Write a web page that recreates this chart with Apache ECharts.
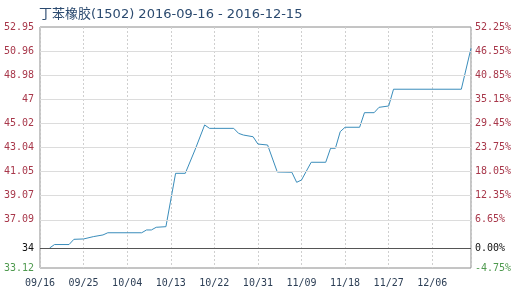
<!DOCTYPE html>
<html>
<head>
<meta charset="utf-8">
<script src="https://cdn.jsdelivr.net/npm/echarts@6/dist/echarts.min.js"></script>
<style>html,body{margin:0;padding:0;background:#fff;}#c{width:518px;height:292px;}</style>
</head>
<body>
<div id="c"></div>
<script>
var titleText = '丁苯橡胶(1502) 2016-09-16 - 2016-12-15';
var startDate = '2016-09-16';
var endDate = '2016-12-14';
var dates = ['2016-09-18','2016-09-19','2016-09-22','2016-09-23','2016-09-25','2016-09-27','2016-09-29','2016-09-30',
  '2016-10-07','2016-10-08','2016-10-09','2016-10-10','2016-10-12','2016-10-14','2016-10-16','2016-10-18','2016-10-20',
  '2016-10-21','2016-10-26','2016-10-27','2016-10-28','2016-10-30','2016-10-31','2016-11-02','2016-11-04','2016-11-07',
  '2016-11-08','2016-11-09','2016-11-11','2016-11-14','2016-11-15','2016-11-16','2016-11-17','2016-11-18','2016-11-21',
  '2016-11-22','2016-11-24','2016-11-25','2016-11-27','2016-11-28','2016-12-12','2016-12-14'];
var prices = [34.77,35.05,35.05,35.48,35.51,35.70,35.84,36.02,
  36.02,36.25,36.25,36.47,36.52,40.91,40.91,42.83,44.89,
  44.61,44.61,44.20,44.06,43.92,43.32,43.24,41.02,41.00,
  40.17,40.36,41.82,41.82,42.97,42.97,44.34,44.70,44.70,
  45.90,45.90,46.34,46.45,47.83,47.83,51.20];
var basePrice = 34.77;
var xTickLabels = ['09/16','09/25','10/04','10/13','10/22','10/31','11/09','11/18','11/27','12/06'];
var leftTickValues = [33.12,34.77,37.09,39.07,41.05,43.04,45.02,47,48.98,50.96,52.95];
var leftTickLabels = ['33.12','34','37.09','39.07','41.05','43.04','45.02','47','48.98','50.96','52.95'];
var rightTickValues = [-4.75,0,6.65,12.35,18.05,23.75,29.45,35.15,40.85,46.55,52.25];
var rightTickLabels = ['-4.75%','0.00%','6.65%','12.35%','18.05%','23.75%','29.45%','35.15%','40.85%','46.55%','52.25%'];

var DAY = 86400000;
function dayIdx(s){ return Math.round((Date.parse(s) - Date.parse(startDate)) / DAY); }
var maxIdx = dayIdx(endDate);
var seriesData = dates.map(function(d,i){ return [dayIdx(d), prices[i]]; });

var RED = '#a8374a', GREEN = '#4f9a4f', BLACK = '#111';
function labelStyle(vals, labs){
  return function(v){
    for (var i=0;i<vals.length;i++){
      if (Math.abs(vals[i]-v) < 1e-6){
        var k = i===0 ? 'g' : (i===1 ? 'k' : 'r');
        return '{' + k + '|' + labs[i] + '}';
      }
    }
    return '';
  };
}
var rich = {
  r:{color:RED,fontSize:10,fontFamily:'DejaVu Sans Mono'},
  g:{color:GREEN,fontSize:10,fontFamily:'DejaVu Sans Mono'},
  k:{color:BLACK,fontSize:10,fontFamily:'DejaVu Sans Mono'}
};
var gridVals = leftTickValues.slice(2, leftTickValues.length-1);

var chart = echarts.init(document.getElementById('c'), null, {renderer:'canvas'});
chart.setOption({
  animation:false,
  backgroundColor:'#fff',
  title:{text:titleText,left:34,top:3,textStyle:{fontSize:13,fontWeight:'normal',color:'#2b4a6f',fontFamily:'DejaVu Sans, Noto Sans CJK SC'}},
  grid:{left:40,right:47,top:27,bottom:24,show:true,borderColor:'#8a8a8a',borderWidth:1},
  xAxis:{type:'value',min:0,max:maxIdx,interval:9,
    axisLine:{show:false},axisTick:{show:false},
    splitLine:{show:true,lineStyle:{color:'#cfcfcf',type:[2,2],width:1}},
    axisLabel:{showMaxLabel:false,margin:10,color:'#2c3e55',fontSize:10,fontFamily:'DejaVu Sans Mono',
      formatter:function(v){ var i=Math.round(v/9); return (v%9===0 && i<xTickLabels.length)? xTickLabels[i] : ''; }}
  },
  yAxis:[
    {type:'value',min:leftTickValues[0],max:leftTickValues[leftTickValues.length-1],
      axisLine:{show:false},axisTick:{show:false},splitLine:{show:false},
      axisLabel:{customValues:leftTickValues,margin:6,formatter:labelStyle(leftTickValues,leftTickLabels),rich:rich}},
    {type:'value',min:rightTickValues[0],max:rightTickValues[rightTickValues.length-1],position:'right',
      axisLine:{show:false},axisTick:{show:false},splitLine:{show:false},
      axisLabel:{customValues:rightTickValues,margin:4,formatter:labelStyle(rightTickValues,rightTickLabels),rich:rich}}
  ],
  series:[{
    type:'line',yAxisIndex:0,data:seriesData,symbol:'none',
    lineStyle:{color:'#3a8dbb',width:1},
    markLine:{silent:true,symbol:'none',label:{show:false},animation:false,
      data:gridVals.map(function(v){return {yAxis:v,lineStyle:{color:'#dcdcdc',type:'solid',width:1}};})
        .concat([{yAxis:basePrice,lineStyle:{color:'#555',type:'solid',width:1}}])
    },
    z:3
  }]
});
</script>
</body>
</html>
